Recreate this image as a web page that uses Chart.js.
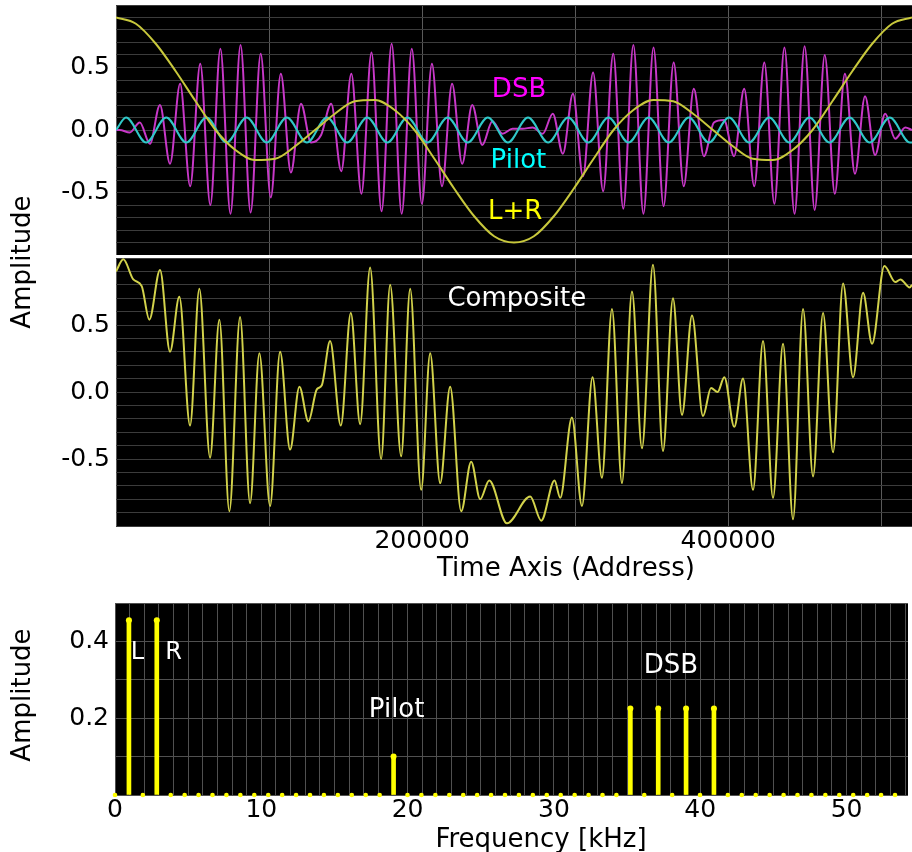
<!DOCTYPE html>
<html>
<head>
<meta charset="utf-8">
<title>FM stereo composite signal</title>
<script src="https://cdn.jsdelivr.net/npm/chart.js@4.4.1/dist/chart.umd.min.js"></script>
<style>
  html, body { margin: 0; padding: 0; background: #fff; }
  #page { position: relative; width: 912px; height: 852px; overflow: hidden; font-family: "DejaVu Sans", sans-serif; }
  canvas { position: absolute; left: 0; }
  .title { position: absolute; font-size: 26px; line-height: 26px; color: #000; white-space: nowrap; transform: translate(-50%, -50%); }
  .vtitle { transform: translate(-50%, -50%) rotate(-90deg); }
</style>
</head>
<body>
<div id="page">
  <canvas id="topChart" width="912" height="255" style="top:0"></canvas>
  <canvas id="compChart" width="912" height="334" style="top:256px"></canvas>
  <canvas id="specChart" width="912" height="256" style="top:596px"></canvas>
  <div class="title vtitle" style="left:21px; top:262px">Amplitude</div>
  <div class="title" style="left:566px; top:567px">Time Axis (Address)</div>
  <div class="title vtitle" style="left:21px; top:695px">Amplitude</div>
  <div class="title" style="left:541px; top:838px">Frequency [kHz]</div>
</div>
<script>
// time panels: x = sample address, y = amplitude
var ADDR_MAX = 520000;
var timeTicks = [0, 50000, 100000, 150000, 200000, 250000, 300000, 350000, 400000, 450000, 500000];
var timeLabels = [200000, 400000];

// L+R, one reading every 13000 addresses
var LR_STEP = 13000;
var lrValues = [0.90, 0.85, 0.69, 0.47, 0.23, 0.00, -0.16, -0.24, -0.23, -0.13,
                0.00, 0.13, 0.23, 0.24, 0.16, 0.00, -0.23, -0.47, -0.69, -0.85,
                -0.90, -0.85, -0.69, -0.47, -0.23, 0.00, 0.16, 0.24, 0.23, 0.13,
                0.00, -0.13, -0.23, -0.24, -0.16, 0.00, 0.23, 0.47, 0.69, 0.85, 0.90];

// pilot tone, peaks and troughs
var PILOT_FIRST = 6560;
var PILOT_STEP = 13130;
var pilotPeaks = [0.10, -0.10, 0.10, -0.10, 0.10, -0.10, 0.10, -0.10, 0.10, -0.10,
                  0.10, -0.10, 0.10, -0.10, 0.10, -0.10, 0.10, -0.10, 0.10, -0.10,
                  0.10, -0.10, 0.10, -0.10, 0.10, -0.10, 0.10, -0.10, 0.10, -0.10,
                  0.10, -0.10, 0.10, -0.10, 0.10, -0.10, 0.10, -0.10, 0.10, -0.10];
var pilotEnd = -0.10;

// DSB, one reading per carrier half cycle
var DSB_FIRST = 2400;
var DSB_STEP = 6580;
var dsbPeaks = [0.00, -0.02, 0.06, -0.11, 0.20, -0.27, 0.37, -0.45, 0.53, -0.60,
                0.65, -0.67, 0.68, -0.66, 0.61, -0.54, 0.45, -0.34, 0.21, -0.10,
                -0.04, 0.21, -0.33, 0.45, -0.51, 0.62, -0.65, 0.69, -0.67, 0.65,
                -0.59, 0.53, -0.45, 0.37, -0.27, 0.20, -0.12, 0.07, -0.03, 0.01,
                0.01, 0.02, -0.03, 0.13, -0.19, 0.29, -0.37, 0.46, -0.49, 0.61,
                -0.63, 0.68, -0.67, 0.66, -0.61, 0.54, -0.45, 0.33, -0.21, 0.06,
                0.08, -0.21, 0.33, -0.45, 0.54, -0.59, 0.66, -0.67, 0.67, -0.64,
                0.60, -0.51, 0.45, -0.35, 0.27, -0.20, 0.13, -0.07, 0.02];

// composite, turning points
var compAddr = [0, 4770, 11300, 16800, 21760, 28760, 35290, 41370, 48370, 54440,
                61440, 67520, 74050, 81050, 87580, 93660, 100650, 107190, 113730, 119800,
                125690, 131180, 134450, 139870, 146860, 153400, 159480, 166010, 173200, 179090,
                186280, 192160, 199350, 205230, 211770, 218300, 225490, 232030, 237910, 243790,
                255360, 270590, 277780, 286470, 290200, 297850, 304380, 311310, 317460, 323990,
                330530, 337060, 343600, 350790, 357330, 363860, 369740, 376280, 383470, 388700,
                393010, 397390, 403920, 409610, 416150, 422680, 429220, 435750, 442290, 448820,
                455360, 461890, 468430, 474960, 481500, 488030, 493910, 501950, 509150, 512420,
                518500, 520000];
var compValues = [0.90, 0.99, 0.84, 0.79, 0.54, 0.91, 0.30, 0.71, -0.25, 0.77,
                  -0.49, 0.54, -0.89, 0.56, -0.83, 0.29, -0.85, 0.30, -0.43, 0.04,
                  -0.22, 0.02, 0.05, 0.38, -0.25, 0.59, -0.24, 0.93, -0.50, 0.80,
                  -0.48, 0.77, -0.73, 0.29, -0.68, 0.04, -0.89, -0.52, -0.80, -0.66,
                  -0.98, -0.78, -0.96, -0.66, -0.79, -0.19, -0.85, 0.11, -0.64, 0.62,
                  -0.68, 0.75, -0.42, 0.95, -0.44, 0.70, -0.17, 0.57, -0.18, 0.03,
                  0.00, 0.11, -0.26, 0.10, -0.73, 0.38, -0.79, 0.36, -0.95, 0.62,
                  -0.63, 0.59, -0.45, 0.81, 0.11, 0.74, 0.36, 0.94, 0.82, 0.84,
                  0.78, 0.80];

// spectrum: one amplitude per bin
var BIN_KHZ = 0.952;
var FREQ_MAX = 54.2;
var specAmps = [0, 0.455, 0, 0.455, 0, 0, 0, 0, 0, 0,
                0, 0, 0, 0, 0, 0, 0, 0, 0, 0,
                0.10, 0, 0, 0, 0, 0, 0, 0, 0, 0,
                0, 0, 0, 0, 0, 0, 0, 0.225, 0, 0.225,
                0, 0.225, 0, 0.225, 0, 0, 0, 0, 0, 0,
                0, 0, 0, 0, 0, 0, 0];

Chart.defaults.font.family = '"DejaVu Sans", sans-serif';
Chart.defaults.color = '#000';

var FONT = '"DejaVu Sans", sans-serif';

// black plot background
var blackPlot = {
  id: 'blackPlot',
  beforeDraw: function(chart) {
    var a = chart.chartArea, ctx = chart.ctx;
    ctx.save();
    ctx.fillStyle = '#000';
    ctx.fillRect(a.left, a.top, a.right - a.left, a.bottom - a.top);
    ctx.restore();
  }
};

// text inside the plots, placed in data units
var panelLabels = {
  id: 'panelLabels',
  afterDatasetsDraw: function(chart, args, opts) {
    var ctx = chart.ctx, x = chart.scales.x, y = chart.scales.y;
    ctx.save();
    ctx.textAlign = 'center';
    ctx.textBaseline = 'middle';
    (opts.items || []).forEach(function(it) {
      ctx.font = (it.size || 26) + 'px ' + FONT;
      ctx.fillStyle = it.color;
      ctx.fillText(it.text, x.getPixelForValue(it.x), y.getPixelForValue(it.y));
    });
    ctx.restore();
  }
};

function grid(first, step, values) {
  return values.map(function(v, i) { return {x: first + i * step, y: v}; });
}

var lrPoints = grid(0, LR_STEP, lrValues);
var pilotPoints = [{x: 0, y: 0}].concat(grid(PILOT_FIRST, PILOT_STEP, pilotPeaks), [{x: ADDR_MAX, y: pilotEnd}]);
var dsbPoints = [{x: 0, y: 0}].concat(grid(DSB_FIRST, DSB_STEP, dsbPeaks), [{x: ADDR_MAX, y: 0}]);
var compPoints = compAddr.map(function(a, i) { return {x: a, y: compValues[i]}; });

function halfTicks(v) {
  var t = Math.round(v * 10);
  return (t % 5 === 0 && Math.abs(t) < 10) ? (t / 10).toFixed(1) : '';
}

function timeAxis(showLabels, height) {
  return {
    type: 'linear', min: 0, max: ADDR_MAX,
    afterBuildTicks: function(s) { s.ticks = timeTicks.map(function(v) { return {value: v}; }); },
    afterFit: function(s) { s.height = height; s.paddingLeft = 0; s.paddingRight = 0; },
    border: {display: false},
    grid: {
      drawTicks: false,
      color: function(c) {
        var v = c.tick ? c.tick.value : 1;
        return Math.abs(v / 100000 - Math.round(v / 100000)) < 1e-6 ? '#5a5a5a' : 'rgba(0,0,0,0)';
      }
    },
    ticks: {
      autoSkip: false, maxRotation: 0, minRotation: 0,
      padding: 0, display: showLabels, font: {size: 25},
      callback: function(v) { return timeLabels.indexOf(Math.round(v)) >= 0 ? String(Math.round(v)) : ''; }
    }
  };
}

function ampAxis() {
  return {
    min: -1, max: 1,
    afterFit: function(s) { s.width = 116; s.paddingTop = 0; s.paddingBottom = 0; },
    border: {display: false},
    grid: {drawTicks: false, color: '#3c3c3c'},
    ticks: {stepSize: 0.1, autoSkip: false, padding: 6, font: {size: 25}, callback: halfTicks}
  };
}

function trace(label, data, color, order) {
  return {
    label: label, data: data, borderColor: color, borderWidth: 2,
    pointRadius: 0, cubicInterpolationMode: 'monotone', order: order
  };
}

new Chart(document.getElementById('topChart'), {
  type: 'line',
  data: {
    datasets: [
      trace('L+R', lrPoints, '#c8c83c', 0),
      trace('Pilot', pilotPoints, '#30c8c8', 1),
      trace('DSB', dsbPoints, '#c838c8', 2)
    ]
  },
  options: {
    responsive: false, animation: false, devicePixelRatio: 1,
    layout: {padding: {top: 5, left: 0, right: 0, bottom: 0}},
    scales: {x: timeAxis(false, 0), y: ampAxis()},
    plugins: {
      legend: {display: false}, tooltip: {enabled: false},
      panelLabels: {items: [
        {text: 'DSB', x: 263300, y: 0.32, color: '#ff00ff'},
        {text: 'Pilot', x: 262900, y: -0.25, color: '#00ffff'},
        {text: 'L+R', x: 260700, y: -0.66, color: '#ffff00'}
      ]}
    }
  },
  plugins: [blackPlot, panelLabels]
});

new Chart(document.getElementById('compChart'), {
  type: 'line',
  data: {datasets: [trace('Composite', compPoints, '#d2d24b', 0)]},
  options: {
    responsive: false, animation: false, devicePixelRatio: 1,
    layout: {padding: {top: 2, left: 0, right: 0, bottom: 0}},
    scales: {x: timeAxis(true, 64), y: ampAxis()},
    plugins: {
      legend: {display: false}, tooltip: {enabled: false},
      panelLabels: {items: [{text: 'Composite', x: 261800, y: 0.69, color: '#ffffff'}]}
    }
  },
  plugins: [blackPlot, panelLabels]
});

var specPoints = specAmps.map(function(a, i) { return {x: i * BIN_KHZ, y: a}; });
var stemPoints = specPoints.filter(function(p) { return p.y > 0; });

new Chart(document.getElementById('specChart'), {
  type: 'bar',
  data: {
    datasets: [
      {type: 'line', label: 'bins', data: specPoints, showLine: false, order: 0, clip: false,
       pointRadius: function(c) { return c.raw && c.raw.y > 0 ? 3 : 2.3; },
       pointBackgroundColor: '#ffff00', pointBorderWidth: 0},
      {type: 'bar', label: 'stems', data: stemPoints, backgroundColor: '#ffff00',
       barThickness: 4, borderWidth: 0, order: 1}
    ]
  },
  options: {
    responsive: false, animation: false, devicePixelRatio: 1,
    layout: {padding: {top: 7, left: 0, right: 0, bottom: 0}},
    scales: {
      x: {
        type: 'linear', min: 0, max: FREQ_MAX, offset: false,
        afterFit: function(s) { s.height = 57; s.paddingLeft = 0; s.paddingRight = 0; },
        border: {display: false},
        grid: {drawTicks: false, offset: false, color: '#505050'},
        ticks: {
          stepSize: 1, autoSkip: false, maxRotation: 0, minRotation: 0, includeBounds: false,
          padding: 0, font: {size: 25},
          callback: function(v) { return v % 10 === 0 ? String(v) : ''; }
        }
      },
      y: {
        min: 0, max: 0.5,
        afterFit: function(s) { s.width = 115; s.paddingTop = 0; s.paddingBottom = 0; },
        border: {display: false},
        grid: {drawTicks: false, color: '#505050'},
        ticks: {
          stepSize: 0.1, autoSkip: false, padding: 6, font: {size: 25},
          callback: function(v) { var t = Math.round(v * 10); return (t === 2 || t === 4) ? (t / 10).toFixed(1) : ''; }
        }
      }
    },
    plugins: {
      legend: {display: false}, tooltip: {enabled: false},
      panelLabels: {items: [
        {text: 'L', x: 1.53, y: 0.37, color: '#ffffff', size: 24},
        {text: 'R', x: 4.01, y: 0.37, color: '#ffffff', size: 24},
        {text: 'Pilot', x: 19.25, y: 0.22, color: '#ffffff'},
        {text: 'DSB', x: 38.0, y: 0.335, color: '#ffffff'}
      ]}
    }
  },
  plugins: [blackPlot, panelLabels]
});
</script>
</body>
</html>
